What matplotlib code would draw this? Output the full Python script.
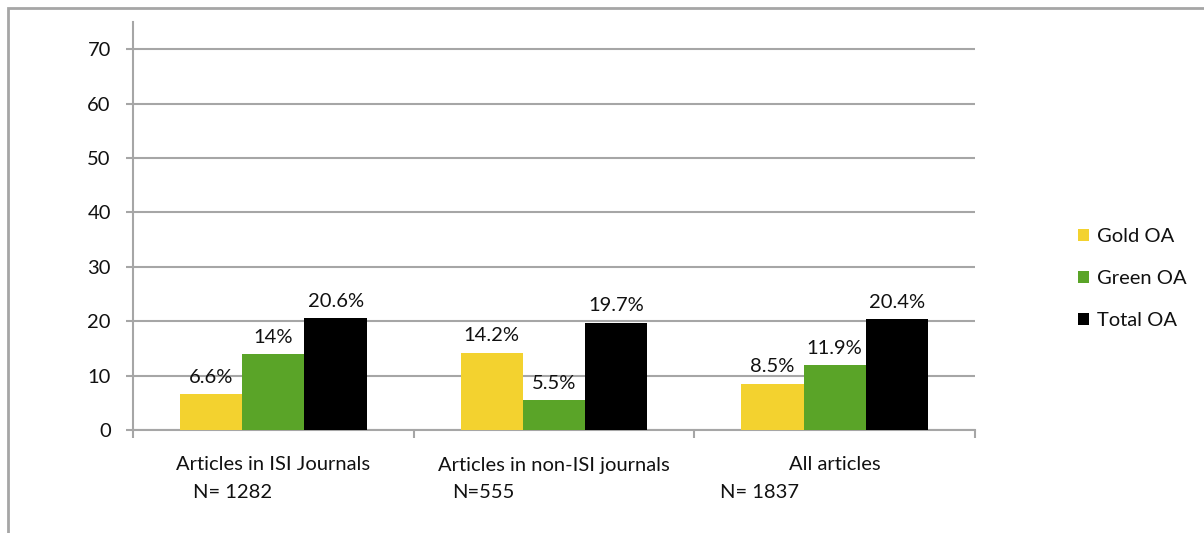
import matplotlib.pyplot as plt
import numpy as np
from matplotlib.patches import Rectangle

plt.rcParams['font.family'] = ['Lato', 'DejaVu Sans']

categories = ["Articles in ISI Journals", "Articles in non-ISI journals", "All articles"]
n_labels = ["N= 1282", "N=555", "N= 1837"]
series = ["Gold OA", "Green OA", "Total OA"]
gold = [6.6, 14.2, 8.5]
green = [14.0, 5.5, 11.9]
total = [20.6, 19.7, 20.4]
value_labels = [["6.6%", "14.2%", "8.5%"],
                ["14%", "5.5%", "11.9%"],
                ["20.6%", "19.7%", "20.4%"]]
colors = ["#f3d22f", "#5aa428", "#000000"]
grey = "#a6a6a6"
txt = "#111111"
fs = 14.5

fig = plt.figure(figsize=(12.04, 5.33), dpi=100)
W, H = 1204, 533
ax = fig.add_axes([133 / W, 1 - 430 / H, (975 - 133) / W, (430 - 22) / H])

x = np.arange(len(categories))
width = 0.222
for i, vals in enumerate([gold, green, total]):
    pos = x + (i - 1) * width
    ax.bar(pos, vals, width, color=colors[i], label=series[i], zorder=3)
    for p, v, t in zip(pos, vals, value_labels[i]):
        ax.annotate(t, (p, v), xytext=(0, 6), textcoords="offset points",
                    ha="center", va="bottom", fontsize=fs, color=txt, zorder=4)

ax.set_xlim(-0.5, 2.5)
ax.set_ylim(0, 75.0)
ax.set_yticks(range(0, 80, 10))
ax.tick_params(axis="y", length=5, width=1.5, color=grey, labelsize=fs,
               labelcolor=txt, pad=11)
ax.yaxis.grid(True, color=grey, linewidth=1.5, zorder=0)
ax.set_xticks([-0.5, 0.5, 1.5, 2.5])
ax.set_xticklabels([])
ax.tick_params(axis="x", length=6, width=1.5, color=grey, direction="out")
for s in ["top", "right"]:
    ax.spines[s].set_visible(False)
for s in ["left", "bottom"]:
    ax.spines[s].set_color(grey)
    ax.spines[s].set_linewidth(1.5)

# category labels and N labels
n_x = [193, 452, 720]
for i, c in enumerate(categories):
    fig.text((133 + 281 * i + 140) / W, 1 - 465 / H, c, ha="center", va="center",
             fontsize=fs, color=txt)
    fig.text(n_x[i] / W, 1 - 493 / H, n_labels[i], ha="left", va="center",
             fontsize=fs, color=txt)

leg = fig.legend(loc="upper left", bbox_to_anchor=(1060 / W, 1 - 210 / H), frameon=False,
                 fontsize=fs, handlelength=0.55, handleheight=0.55, handletextpad=0.4,
                 labelspacing=1.25, labelcolor=txt)

# outer frame
fig.patches.append(Rectangle((8 / W, -0.1), 1.2, 1.1 - 8 / H, transform=fig.transFigure,
                             fill=False, edgecolor=grey, linewidth=2))

fig.savefig("out.png", dpi=100)
